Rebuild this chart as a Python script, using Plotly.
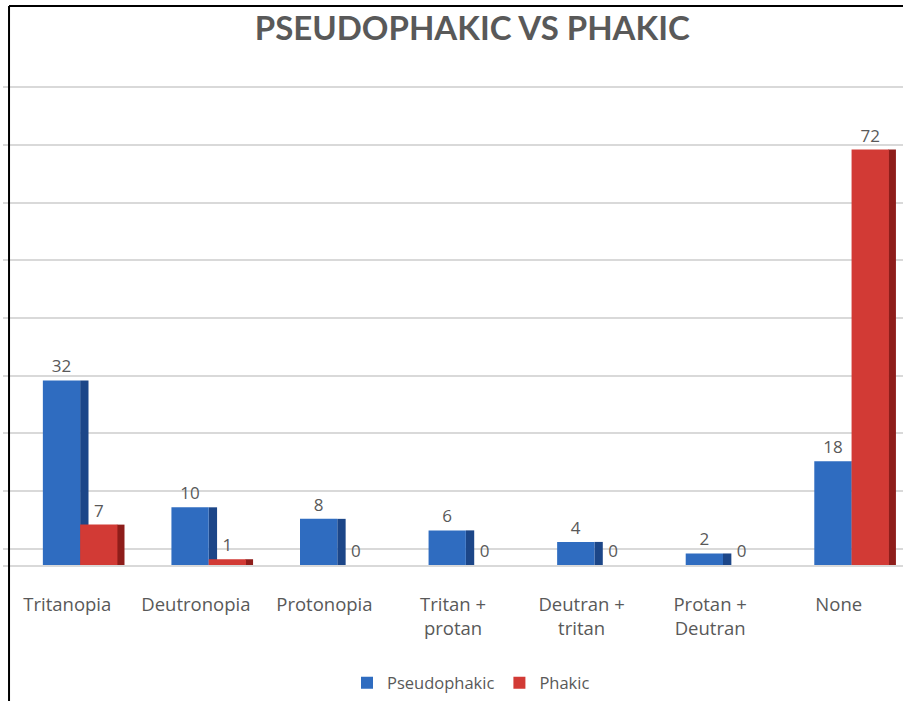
import plotly.graph_objects as go

# Chart data
categories = ["Tritanopia", "Deutronopia", "Protonopia", "Tritan +<br>protan",
              "Deutran +<br>tritan", "Protan +<br>Deutran", "None"]
pseudophakic = [32, 10, 8, 6, 4, 2, 18]
phakic = [7, 1, 0, 0, 0, 0, 72]
grid_values = [0, 10, 20, 30, 40, 50, 60, 70, 80]

# Back-wall gridlines sit slightly above the bar scale (3D perspective look)
WALL_SHIFT = 2.8

BLUE_FRONT, BLUE_SIDE = "#2f6cc0", "#1c4688"
RED_FRONT, RED_SIDE = "#d23a35", "#8e1d1a"
TEXT = "#595959"
LABEL_FONT = "Open Sans"

fig = go.Figure()

# side faces first, fronts drawn over them
fig.add_trace(go.Bar(x=categories, y=pseudophakic, offset=0.10, width=0.065,
                     marker=dict(color=BLUE_SIDE, line=dict(width=0)),
                     showlegend=False, hoverinfo="skip"))
fig.add_trace(go.Bar(x=categories, y=pseudophakic, offset=-0.19, width=0.29,
                     name="Pseudophakic",
                     marker=dict(color=BLUE_FRONT, line=dict(width=0)),
                     text=[str(v) for v in pseudophakic], textposition="outside",
                     textfont=dict(color=TEXT, size=17, family=LABEL_FONT),
                     cliponaxis=False))
fig.add_trace(go.Bar(x=categories, y=phakic, offset=0.385, width=0.06,
                     marker=dict(color=RED_SIDE, line=dict(width=0)),
                     showlegend=False, hoverinfo="skip"))
fig.add_trace(go.Bar(x=categories, y=phakic, offset=0.10, width=0.29,
                     name="Phakic",
                     marker=dict(color=RED_FRONT, line=dict(width=0)),
                     text=[str(v) for v in phakic], textposition="outside",
                     textfont=dict(color=TEXT, size=17, family=LABEL_FONT),
                     cliponaxis=False))

fig.update_layout(
    width=903, height=701,
    margin=dict(l=3, r=0, t=85, b=136),
    paper_bgcolor="white", plot_bgcolor="white",
    barmode="overlay",
    font=dict(family=LABEL_FONT, color=TEXT),
    title=dict(text="<b>PSEUDOPHAKIC VS PHAKIC</b>", x=0.523, xref="container",
               y=1 - 28 / 701, yanchor="middle", xanchor="center",
               font=dict(size=33, color=TEXT, family="Lato")),
    xaxis=dict(showgrid=False, showline=True, linecolor="#d9d9d9", linewidth=2,
               tickfont=dict(size=18.5, color=TEXT, family=LABEL_FONT), ticks="",
               ticklabelstandoff=22),
    yaxis=dict(range=[0, 83.2], showticklabels=False, showline=False,
               zeroline=False, showgrid=True, gridcolor="#d9d9d9", gridwidth=2,
               tickvals=[v + WALL_SHIFT for v in grid_values]),
    legend=dict(orientation="h", x=0.52, xanchor="center", y=-0.246,
                yanchor="middle", itemwidth=30,
                font=dict(size=16.5, color=TEXT, family=LABEL_FONT)),
    shapes=[
        dict(type="line", xref="paper", yref="paper", x0=0.0067, x1=0.0067,
             y0=-0.3, y1=1.1646, line=dict(color="black", width=2)),
        dict(type="line", xref="paper", yref="paper", x0=0.0067, x1=1.01,
             y0=1.1646, y1=1.1646, line=dict(color="black", width=2)),
    ],
)

fig.write_html("out.html")
